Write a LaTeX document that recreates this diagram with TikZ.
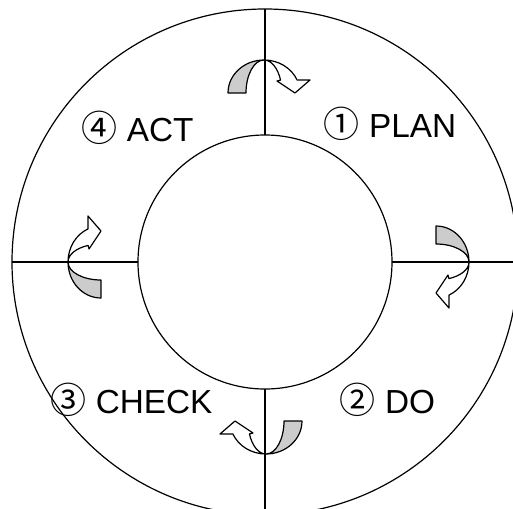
\documentclass[tikz,border=0pt]{standalone}
\usepackage{fontspec}
\setmainfont{Liberation Sans}
\newfontfamily\circfont{Noto Sans CJK JP}
\usepackage{tikz}
\usetikzlibrary{positioning, calc}
\definecolor{bandgray}{HTML}{CCCCCC}

\newcommand{\stepno}[1]{{\circfont\fontsize{27}{30}\selectfont #1}}

\tikzset{
  turnarrow/.pic={
    % shaded back of the band
    \draw[fill=bandgray] (-36,-33) arc[start angle=180, end angle=90, x radius=27pt, y radius=24.75pt]
      arc[start angle=90, end angle=180, x radius=13.5pt, y radius=24.75pt] -- cycle;
    % front of the band with its head
    \draw[fill=white] (0,0) arc[start angle=90, end angle=23, x radius=27pt, y radius=24.75pt]
      -- (46,-20) -- (31,-33) -- (13,-21) -- (16.6,-20.1)
      arc[start angle=23, end angle=90, x radius=13.5pt, y radius=24.75pt] -- cycle;
  }
}

\begin{document}
\begin{tikzpicture}[
    x=0.75pt, y=0.75pt,
    line width=0.9pt, line join=round,
    ring/.style={draw, circle, minimum size=#1, inner sep=0pt, outer sep=0pt},
    stage/.style={anchor=base, font=\fontsize{25}{30}\selectfont},
]
    \clip (-265,-246) rectangle (248,262);

    % Rings
    \node[ring=379.5pt] (outer) at (0,0) {};
    \node[ring=190.5pt] (inner) at (0,0) {};

    % Dividers
    \draw (outer.north) -- (inner.north);
    \draw (inner.south) -- (outer.south);
    \draw (outer.west) -- (inner.west);
    \draw (inner.east) -- (outer.east);

    % Stages
    \node[stage] (plan) at (125,124.5) {\stepno{①} PLAN};
    \node[stage] (do) at (122.5,-151) {\stepno{②} DO};
    \node[stage] (check) at (-133.5,-151) {\stepno{③} CHECK};
    \node[stage] (act) at (-127.5,120.5) {\stepno{④} ACT};

    % Turn arrows
    \coordinate (t1) at (-1,202);
    \coordinate (t2) at (204,0);
    \coordinate (t3) at (1,-192);
    \coordinate (t4) at (-197,0);
    \pic at (t1) {turnarrow};
    \pic[rotate=-90] at (t2) {turnarrow};
    \pic[rotate=180] at (t3) {turnarrow};
    \pic[rotate=90] at (t4) {turnarrow};

\end{tikzpicture}
\end{document}
